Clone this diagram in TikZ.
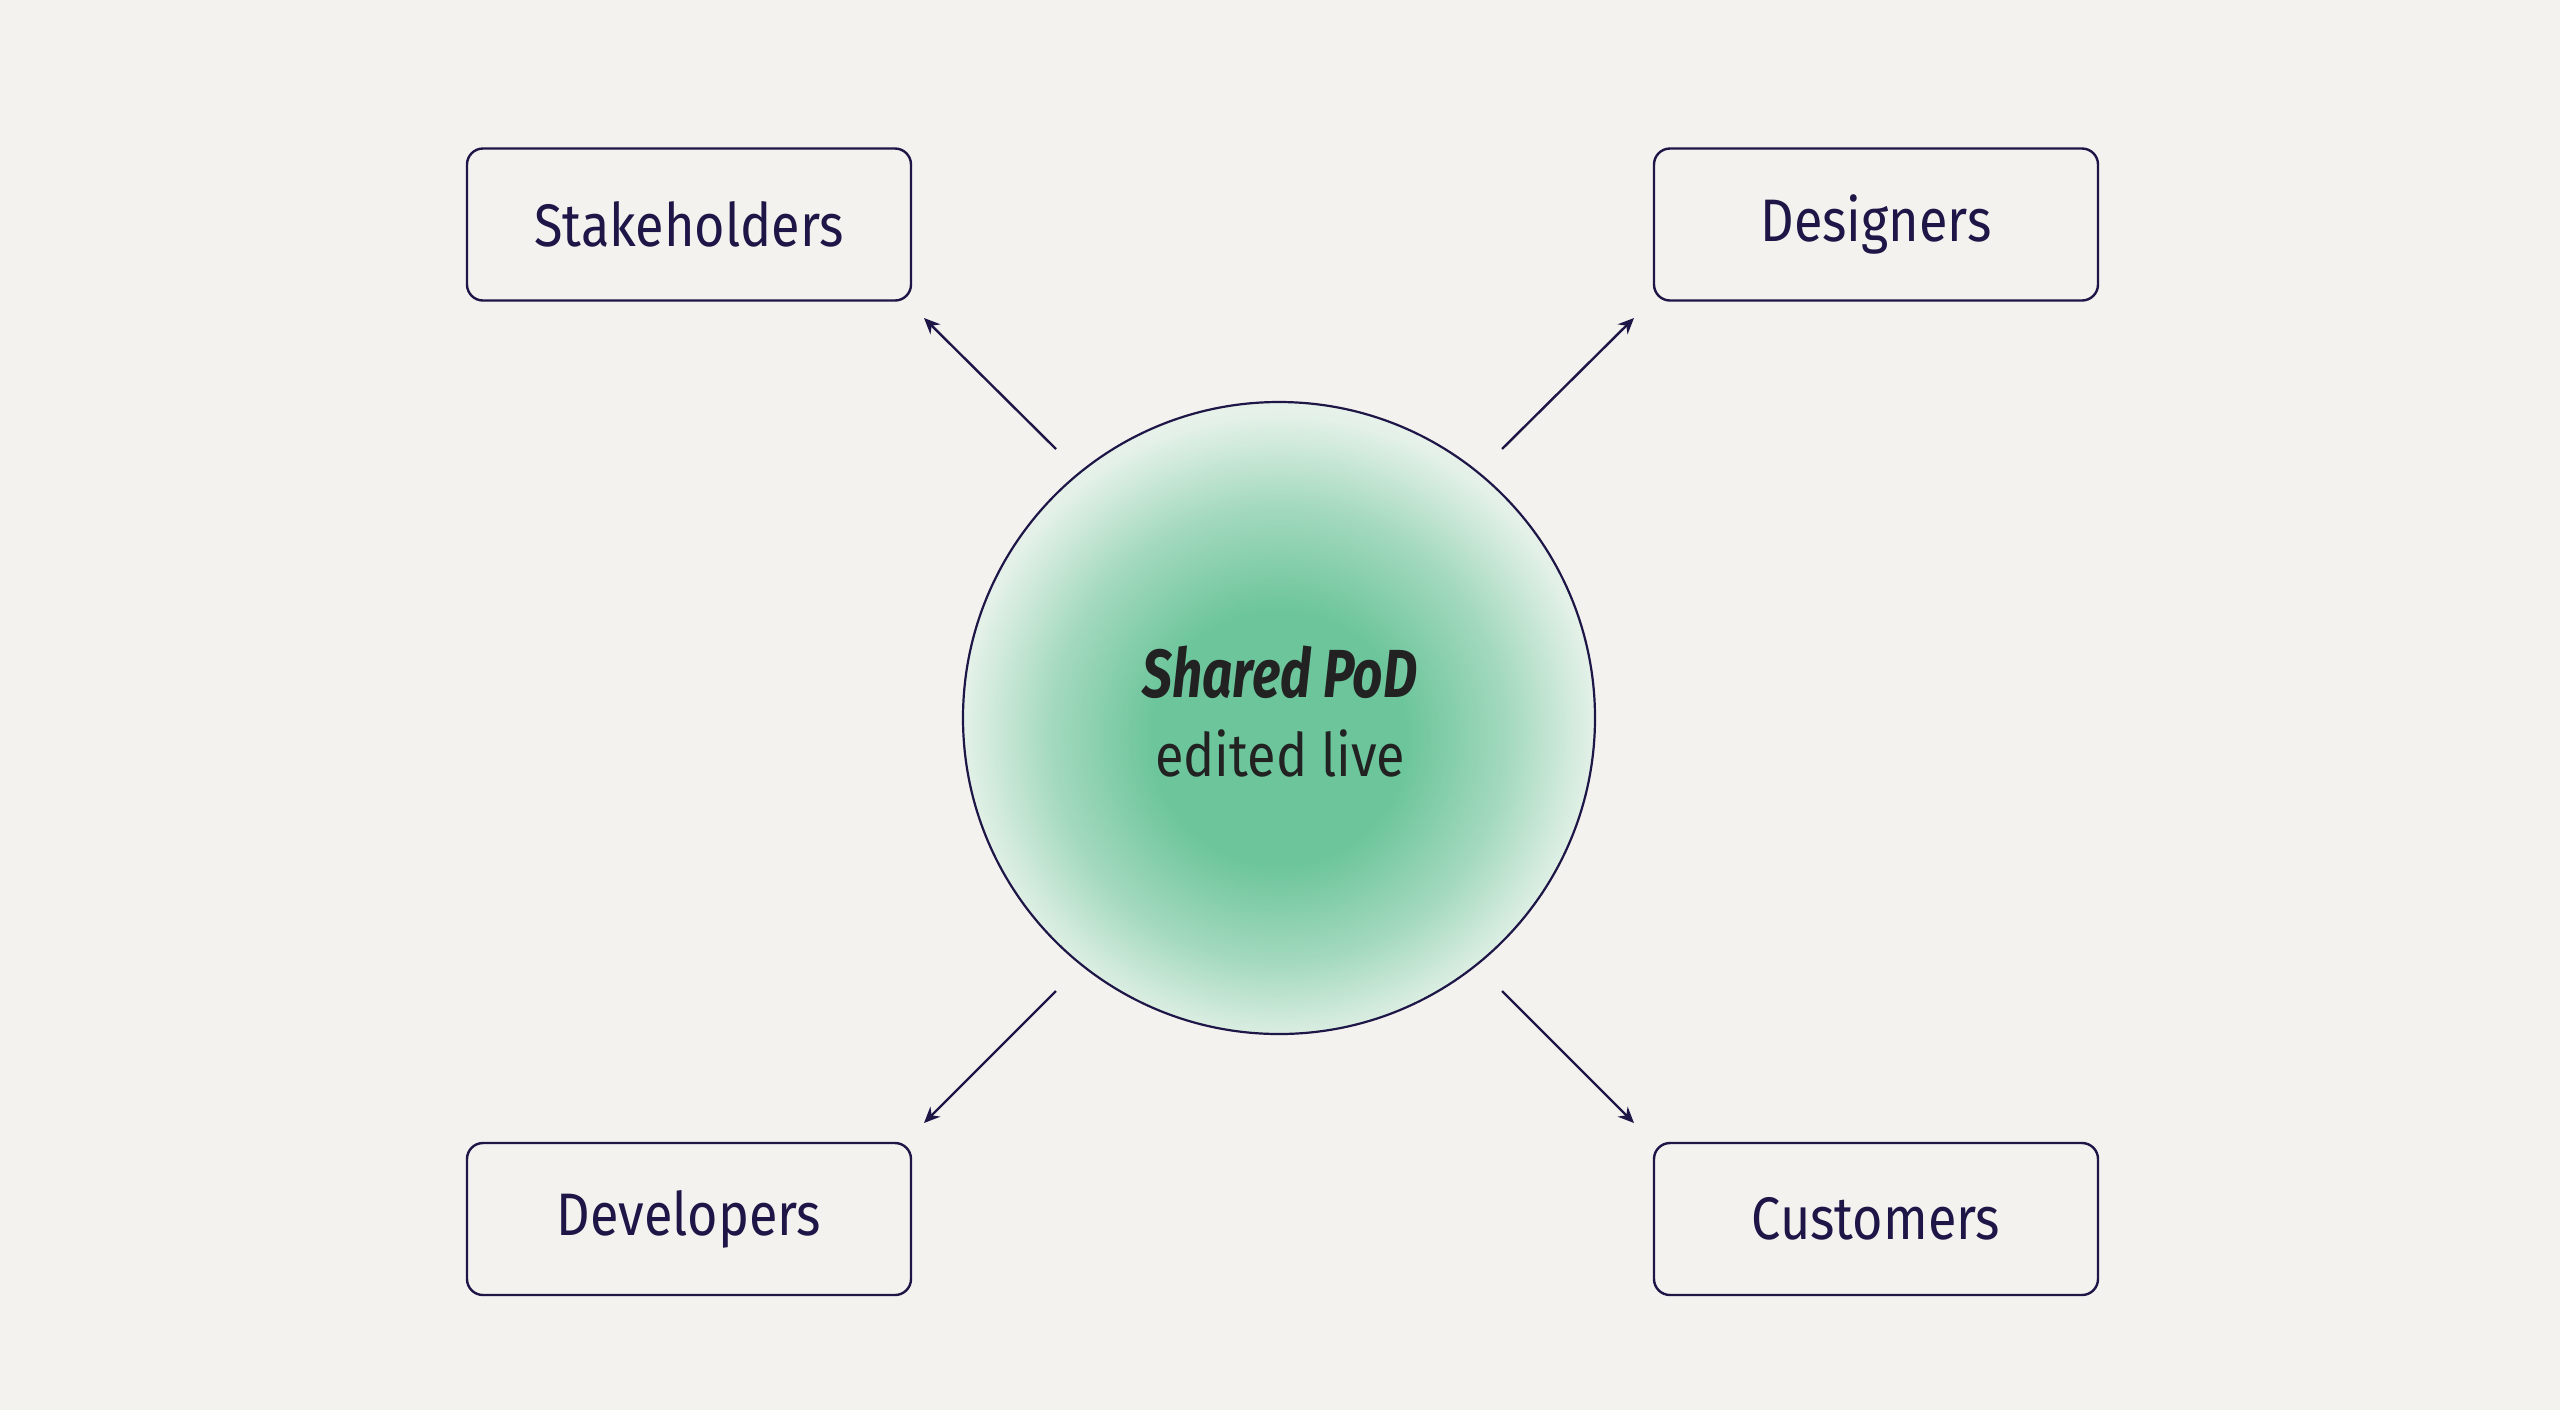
\documentclass[tikz,border=0pt]{standalone}
\usepackage{fontspec}
\setmainfont{Fira Sans}[FakeStretch=0.87]
\newfontfamily\titlefont{Fira Sans}[FakeStretch=0.78]
\usetikzlibrary{arrows.meta}
\definecolor{bgc}{HTML}{F4F2EE}
\definecolor{navy}{HTML}{1D1647}
\definecolor{darktext}{HTML}{222222}
\definecolor{podgreen}{HTML}{6CC59B}
\definecolor{podmid}{HTML}{A3D9BE}
\definecolor{podlight}{HTML}{E4F1E8}
\definecolor{podedge}{HTML}{F1F4EF}
\pgfdeclareradialshading{podshade}{\pgfpoint{0bp}{-2bp}}{%
  color(0bp)=(podgreen);
  color(10bp)=(podgreen);
  color(18bp)=(podmid);
  color(25bp)=(podlight);
  color(30bp)=(podedge);
  color(36bp)=(podedge);
  color(50bp)=(podedge)}
\tikzset{
  rolebox/.style={draw=navy, line width=1.2pt, rounded corners=8pt,
    minimum width=222pt, minimum height=76pt, inner sep=0pt,
    text=navy, font=\fontsize{30}{36}\selectfont},
  podcircle/.style={circle, draw=navy, line width=1.1pt, minimum size=316pt,
    inner sep=0pt, shading=podshade},
  flow/.style={draw=navy, line width=1.2pt, -{Stealth[length=8pt,width=7pt]}},
}
\begin{document}
\begin{tikzpicture}[x=0.5pt,y=-0.5pt]
  \fill[bgc] (0,0) rectangle (2560,1410);
  \useasboundingbox (0,0) rectangle (2560,1410);
  \node[podcircle] (pod) at (1279,718) {};
  \node[text=darktext, font=\titlefont\fontsize{34}{40}\selectfont\bfseries\itshape, anchor=base] (title) at (1280,697) {Shared PoD};
  \node[text=darktext, font=\fontsize{30}{36}\selectfont, anchor=base] (sub) at (1280,776) {edited live};
  \node[rolebox] (stake) at (689,224.5) {Stakeholders};
  \node[rolebox] (design) at (1876,224.5) {Designers};
  \node[rolebox] (dev) at (689,1219) {Developers};
  \node[rolebox] (cust) at (1876,1219) {Customers};
  \coordinate (s1) at (1056,449);
  \coordinate (e1) at (924,318);
  \coordinate (s2) at (1502,449);
  \coordinate (e2) at (1634,318);
  \coordinate (s3) at (1056,991);
  \coordinate (e3) at (924,1123);
  \coordinate (s4) at (1502,991);
  \coordinate (e4) at (1634,1123);
  \draw[flow] (s1) -- (e1);
  \draw[flow] (s2) -- (e2);
  \draw[flow] (s3) -- (e3);
  \draw[flow] (s4) -- (e4);
\end{tikzpicture}
\end{document}
